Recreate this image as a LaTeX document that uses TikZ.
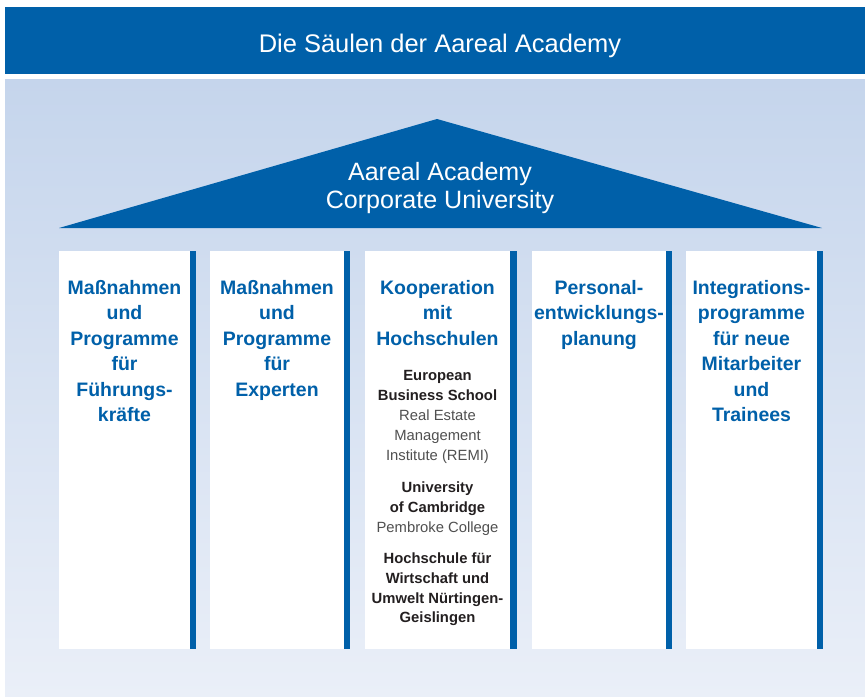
\documentclass[tikz,border=0pt]{standalone}
\usepackage{fontspec}
\setmainfont{Liberation Sans}
\usepackage{tikz}
\usetikzlibrary{positioning}

\definecolor{aarealblau}{HTML}{0060A9}
\definecolor{hgoben}{HTML}{C5D5EC}
\definecolor{hgunten}{HTML}{EAEFF8}
\definecolor{dunkeltext}{HTML}{231F20}
\definecolor{grautext}{HTML}{505050}

\begin{document}
\begin{tikzpicture}[x=0.75pt,y=-0.75pt,
  kopf/.style={anchor=base,inner sep=0pt,text=white,font=\fontsize{19.1}{21}\selectfont},
  dach/.style={anchor=north,inner sep=0pt,align=center,text=white,font=\fontsize{18.8}{21}\selectfont},
  saeulentitel/.style={anchor=north,inner sep=0pt,align=center,text=aarealblau,font=\bfseries\fontsize{14.6}{19.1}\selectfont},
  partner/.style={anchor=north,inner sep=0pt,align=center,text=dunkeltext,font=\fontsize{11.1}{15}\selectfont}]

\useasboundingbox (0,0) rectangle (865,697);

\fill[aarealblau] (5,7) rectangle (865,74);
\node[kopf] (titel) at (440,52) {Die Säulen der Aareal Academy};

\shade[top color=hgoben,bottom color=hgunten] (5,79) rectangle (865,697);

\fill[aarealblau] (59,228) -- (437,119) -- (822,228) -- cycle;
\node[dach] (dachtext) at (440,162) {Aareal Academy\\Corporate University};

\fill[white] (59,251) rectangle (190,649);
\fill[aarealblau] (190,251) rectangle (196,649);
\node[saeulentitel] (fuehrung) at (124.5,280) {Maßnahmen\\und\\Programme\\für\\Führungs-\\kräfte};

\fill[white] (210,251) rectangle (344,649);
\fill[aarealblau] (344,251) rectangle (350,649);
\node[saeulentitel] (experten) at (277,280) {Maßnahmen\\und\\Programme\\für\\Experten};

\fill[white] (365,251) rectangle (510,649);
\fill[aarealblau] (510,251) rectangle (517,649);
\node[saeulentitel] (hochschulen) at (437.5,280) {Kooperation\\mit\\Hochschulen};

\node[partner] (ebs) at (437.5,370.5) {\textbf{European}\\\textbf{Business School}\\\textcolor{grautext}{Real Estate}\\\textcolor{grautext}{Management}\\\textcolor{grautext}{Institute (REMI)}};
\node[partner] (cambridge) at (437.5,481.5) {\textbf{University}\\\textbf{of Cambridge}\\\textcolor{grautext}{Pembroke College}};
\node[partner] (hfwu) at (437.5,552) {\textbf{Hochschule für}\\\textbf{Wirtschaft und}\\\textbf{Umwelt Nürtingen-}\\\textbf{Geislingen}};

\fill[white] (532,251) rectangle (666,649);
\fill[aarealblau] (666,251) rectangle (672,649);
\node[saeulentitel] (personal) at (599,280) {Personal-\\entwicklungs-\\planung};

\fill[white] (686,251) rectangle (817,649);
\fill[aarealblau] (817,251) rectangle (823,649);
\node[saeulentitel] (integration) at (751.5,280) {Integrations-\\programme\\für neue\\Mitarbeiter\\und\\Trainees};

\end{tikzpicture}
\end{document}
